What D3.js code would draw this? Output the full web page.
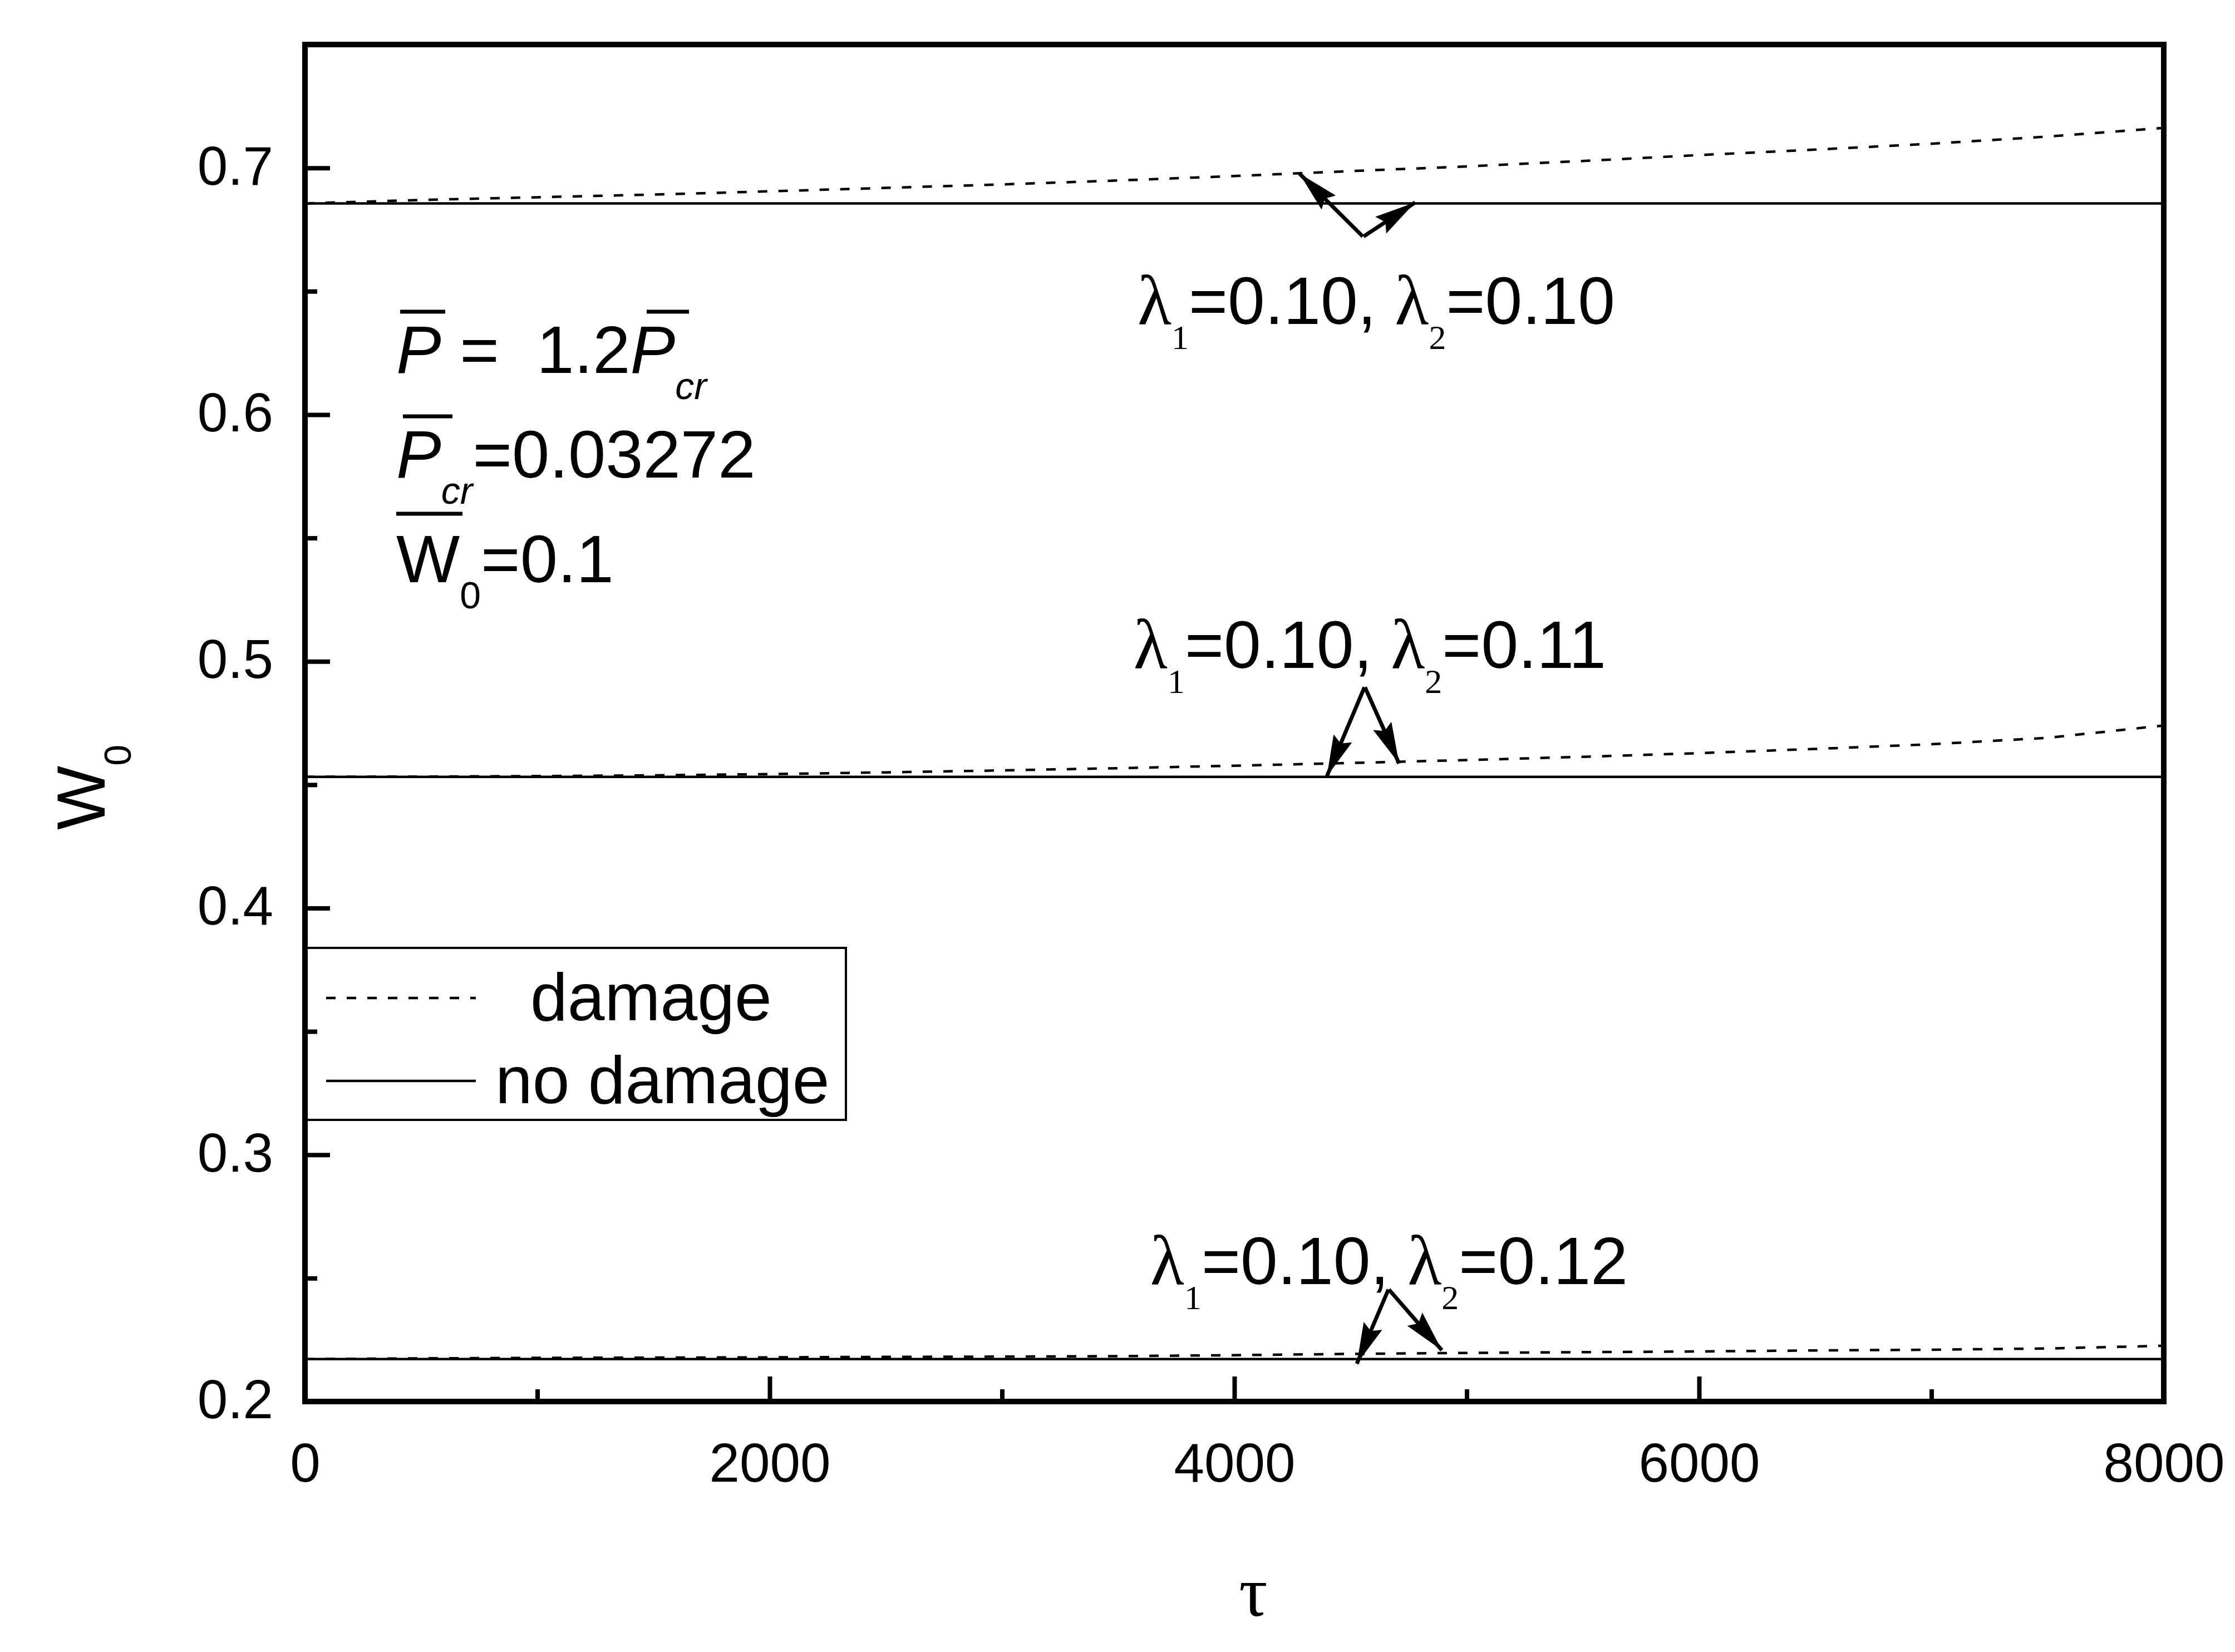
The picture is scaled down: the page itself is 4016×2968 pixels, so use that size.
<!DOCTYPE html>
<html><head><meta charset="utf-8">
<script src="https://cdn.jsdelivr.net/npm/d3@7"></script>
<style>html,body{margin:0;padding:0;background:#fff;} svg{display:block;} text{white-space:pre;}</style>
</head><body>
<svg id="chart" width="4016" height="2968"></svg>
<script>
// ---- data ----
const tau = [0, 500, 1000, 1500, 2000, 2500, 3000, 3500, 4000, 4500, 5000, 5500, 6000, 6500, 7000, 7500, 8000];
// lambda1=0.10, lambda2=0.10
const damageA   = [0.6856, 0.6870, 0.6881, 0.6892, 0.6905, 0.6919, 0.6933, 0.6949, 0.6967, 0.6987, 0.7006, 0.7028, 0.7052, 0.7074, 0.7098, 0.7127, 0.7162];
const noDamageA = [0.6856, 0.6856, 0.6856, 0.6856, 0.6856, 0.6856, 0.6856, 0.6856, 0.6856, 0.6856, 0.6856, 0.6856, 0.6856, 0.6856, 0.6856, 0.6856, 0.6856];
// lambda1=0.10, lambda2=0.11
const damageB   = [0.4532, 0.4533, 0.4535, 0.4538, 0.4543, 0.4550, 0.4558, 0.4567, 0.4577, 0.4588, 0.4600, 0.4613, 0.4628, 0.4645, 0.4664, 0.4690, 0.4740];
const noDamageB = [0.4532, 0.4532, 0.4532, 0.4532, 0.4532, 0.4532, 0.4532, 0.4532, 0.4532, 0.4532, 0.4532, 0.4532, 0.4532, 0.4532, 0.4532, 0.4532, 0.4532];
// lambda1=0.10, lambda2=0.12
const damageC   = [0.2172, 0.2175, 0.2177, 0.2178, 0.2179, 0.2181, 0.2182, 0.2184, 0.2188, 0.2193, 0.2197, 0.2200, 0.2203, 0.2207, 0.2210, 0.2215, 0.2226];
const noDamageC = [0.2172, 0.2172, 0.2172, 0.2172, 0.2172, 0.2172, 0.2172, 0.2172, 0.2172, 0.2172, 0.2172, 0.2172, 0.2172, 0.2172, 0.2172, 0.2172, 0.2172];

const xTickValues = [0, 2000, 4000, 6000, 8000];
const xMinorValues = [1000, 3000, 5000, 7000];
const yTickValues = [0.2, 0.3, 0.4, 0.5, 0.6, 0.7];
const yMinorValues = [0.25, 0.35, 0.45, 0.55, 0.65];
const xDomain = [0, 8000];
const yDomain = [0.2, 0.75];

const legendLabels = ["damage", "no damage"];
const annLabels = [
  {tau: 3583, w: 0.6368, l1: "0.10", l2: "0.10"},
  {tau: 3566, w: 0.4974, l1: "0.10", l2: "0.11"},
  {tau: 3638, w: 0.2476, l1: "0.10", l2: "0.12"}
];
const arrows = [
  {from: [4553, 0.6722], to: [4280, 0.6977]},
  {from: [4556, 0.6722], to: [4778, 0.6860]},
  {from: [4560, 0.4895], to: [4398, 0.4534]},
  {from: [4562, 0.4895], to: [4709, 0.4586]},
  {from: [4663, 0.2454], to: [4527, 0.2153]},
  {from: [4665, 0.2454], to: [4893, 0.2208]}
];

// ---- layout ----
const W = 4016, H = 2968;
const L = 548, R = 3888, T = 80, B = 2518;
const SANS = "'Liberation Sans', Arial, sans-serif";
const SERIF = "'Liberation Serif', 'Times New Roman', serif";

const svg = d3.select("#chart");
svg.append("rect").attr("width", W).attr("height", H).attr("fill", "#fff");

const x = d3.scaleLinear().domain(xDomain).range([L, R]);
const y = d3.scaleLinear().domain(yDomain).range([B, T]);

// legend box (drawn early so frame overlaps)
const lg = svg.append("g");
lg.append("rect").attr("x", 546).attr("y", 1703).attr("width", 974).attr("height", 309)
  .attr("fill", "#fff").attr("stroke", "#000").attr("stroke-width", 4);
lg.append("line").attr("x1", 586).attr("x2", 855).attr("y1", 1793).attr("y2", 1793)
  .attr("stroke", "#000").attr("stroke-width", 4.5).attr("stroke-dasharray", "17,20");
lg.append("line").attr("x1", 586).attr("x2", 855).attr("y1", 1942).attr("y2", 1942)
  .attr("stroke", "#000").attr("stroke-width", 4.5);
lg.append("text").attr("x", 953).attr("y", 1833).attr("font-family", SANS).attr("font-size", 120).text(legendLabels[0]);
lg.append("text").attr("x", 890).attr("y", 1982).attr("font-family", SANS).attr("font-size", 120).text(legendLabels[1]);

// curves
const line = d3.line().x(d => x(d[0])).y(d => y(d[1]));
const solids = [noDamageA, noDamageB, noDamageC];
const dashes = [damageA, damageB, damageC];
svg.append("g").selectAll("path").data(solids).join("path")
  .attr("d", s => line(tau.map((t, i) => [t, s[i]])))
  .attr("fill", "none").attr("stroke", "#000").attr("stroke-width", 4.5);
svg.append("g").selectAll("path").data(dashes).join("path")
  .attr("d", s => line(tau.map((t, i) => [t, s[i]])))
  .attr("fill", "none").attr("stroke", "#000").attr("stroke-width", 4.5).attr("stroke-dasharray", "17,20");

// axes
const axG = svg.append("g");
const xAxis = axG.append("g").attr("transform", `translate(0,${B})`)
  .call(d3.axisBottom(x).tickValues(xTickValues).tickSize(-45).tickPadding(74).tickFormat(d3.format("d")));
const xMinor = axG.append("g").attr("transform", `translate(0,${B})`)
  .call(d3.axisBottom(x).tickValues(xMinorValues).tickSize(-22).tickFormat(""));
const yAxis = axG.append("g").attr("transform", `translate(${L},0)`)
  .call(d3.axisLeft(y).tickValues(yTickValues).tickSize(-45).tickPadding(57).tickFormat(d3.format(".1f")));
const yMinor = axG.append("g").attr("transform", `translate(${L},0)`)
  .call(d3.axisLeft(y).tickValues(yMinorValues).tickSize(-22).tickFormat(""));
axG.selectAll(".domain").remove();
axG.selectAll(".tick line").attr("stroke", "#000").attr("stroke-width", 8);
axG.selectAll(".tick text").attr("font-family", SANS).attr("font-size", 98).attr("fill", "#000");
yAxis.selectAll(".tick text").attr("dy", "0.3em");

// frame
svg.append("rect").attr("x", L).attr("y", T).attr("width", R - L).attr("height", B - T)
  .attr("fill", "none").attr("stroke", "#000").attr("stroke-width", 10);

// axis titles
const yl = svg.append("text").attr("transform", "translate(188,1491) rotate(-90)")
  .attr("font-family", SANS).attr("font-size", 122);
yl.append("tspan").text("W");
yl.append("tspan").attr("font-size", 68).attr("dy", 47).text("0");
svg.append("text").attr("x", 2252).attr("y", 2903).attr("text-anchor", "middle")
  .attr("font-family", SERIF).attr("font-size", 128).text("τ");

// parameter block
const pf = 121, sf = 68;
const p1 = svg.append("text").attr("x", 712).attr("y", 670).attr("font-family", SANS).attr("font-size", pf);
p1.append("tspan").attr("font-style", "italic").text("P");
p1.append("tspan").text(" =  1.2");
p1.append("tspan").attr("font-style", "italic").text("P");
p1.append("tspan").attr("font-style", "italic").attr("font-size", sf).attr("dy", 47).text("cr");
const p2 = svg.append("text").attr("x", 712).attr("y", 858).attr("font-family", SANS).attr("font-size", pf);
p2.append("tspan").attr("font-style", "italic").text("P");
p2.append("tspan").attr("font-style", "italic").attr("font-size", sf).attr("dy", 47).text("cr");
p2.append("tspan").attr("dy", -47).text("=0.03272");
const p3 = svg.append("text").attr("x", 712).attr("y", 1046).attr("font-family", SANS).attr("font-size", pf);
p3.append("tspan").text("W");
p3.append("tspan").attr("font-size", sf).attr("dy", 47).text("0");
p3.append("tspan").attr("dy", -47).text("=0.1");
const bars = [[719, 800, 560], [1162, 1238, 560], [724, 813, 748], [712, 831, 923]];
svg.append("g").selectAll("line").data(bars).join("line")
  .attr("x1", d => d[0]).attr("x2", d => d[1]).attr("y1", d => d[2]).attr("y2", d => d[2])
  .attr("stroke", "#000").attr("stroke-width", 7);

// annotations
const af = 120, lf = 126, asf = 62;
annLabels.forEach(a => {
  const t = svg.append("text").attr("x", x(a.tau)).attr("y", y(a.w)).attr("font-family", SANS).attr("font-size", af);
  t.append("tspan").attr("font-family", SERIF).attr("font-size", lf).text("λ");
  t.append("tspan").attr("font-family", SERIF).attr("font-size", asf).attr("dy", 45).text("1");
  t.append("tspan").attr("dy", -45).text("=" + a.l1 + ", ");
  t.append("tspan").attr("font-family", SERIF).attr("font-size", lf).text("λ");
  t.append("tspan").attr("font-family", SERIF).attr("font-size", asf).attr("dy", 45).text("2");
  t.append("tspan").attr("dy", -45).text("=" + a.l2);
});

// arrows
svg.append("defs").append("marker").attr("id", "ah")
  .attr("markerUnits", "userSpaceOnUse").attr("markerWidth", 80).attr("markerHeight", 40)
  .attr("refX", 74).attr("refY", 18).attr("orient", "auto")
  .append("path").attr("d", "M0,0 L74,18 L0,36 L10,18 Z").attr("fill", "#000");
svg.append("g").selectAll("line").data(arrows).join("line")
  .attr("x1", d => x(d.from[0])).attr("y1", d => y(d.from[1]))
  .attr("x2", d => x(d.to[0])).attr("y2", d => y(d.to[1]))
  .attr("stroke", "#000").attr("stroke-width", 7).attr("marker-end", "url(#ah)");
</script>
</body></html>
